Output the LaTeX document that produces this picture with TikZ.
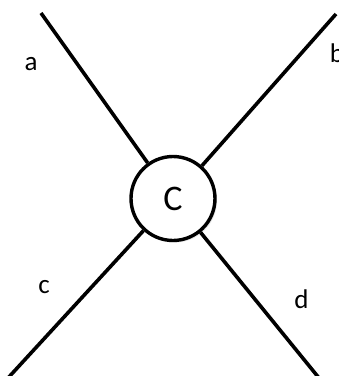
\documentclass[tikz,border=0pt]{standalone}
\usepackage{fontspec}
\setmainfont{Carlito}
\usetikzlibrary{shadows}
\begin{document}
\begin{tikzpicture}[x=1pt,y=-1pt,
  edge/.style={line width=3.6pt},
  lbl/.style={anchor=base,inner sep=0pt,font=\fontsize{27}{30}\selectfont},
  hub/.style={circle,draw,line width=3.4pt,fill=white,minimum size=84pt,inner sep=0pt,
    font=\fontsize{36}{40}\selectfont,
    drop shadow={opacity=0.2,shadow xshift=2pt,shadow yshift=-2pt}}]
\useasboundingbox (0,0) rectangle (339,376);
\clip (0,0) rectangle (339,376);
\node[hub] (C) at (173,198.5) {C};
\coordinate (pa) at (41,13);
\coordinate (pb) at (336,14);
\coordinate (pc) at (8,378);
\coordinate (pd) at (319,378);
\draw[edge] (pa) -- (C);
\draw[edge] (pb) -- (C);
\draw[edge] (pc) -- (C);
\draw[edge] (pd) -- (C);
\node[lbl] (la) at (31,70.5) {a};
\node[lbl] (lb) at (337,62) {b};
\node[lbl] (lc) at (44,293) {c};
\node[lbl] (ld) at (301.5,308) {d};
\end{tikzpicture}
\end{document}
